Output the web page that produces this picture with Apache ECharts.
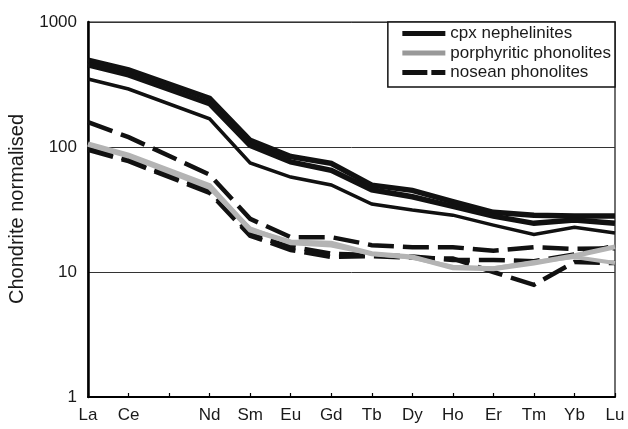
<!DOCTYPE html>
<html>
<head>
<meta charset="utf-8">
<script src="https://cdn.jsdelivr.net/npm/echarts@6/dist/echarts.min.js"></script>
<style>
  html, body { margin: 0; padding: 0; background: #fff; }
  #chart { width: 628px; height: 429px; }
</style>
</head>
<body>
<div id="chart"></div>
<script>
// Rare earth elements in atomic order; Pr is not analysed and keeps an empty slot
const elements = ['La', 'Ce', 'Pr', 'Nd', 'Sm', 'Eu', 'Gd', 'Tb', 'Dy', 'Ho', 'Er', 'Tm', 'Yb', 'Lu'];
const unlabelled = ['Pr'];
const yTicks = [1, 10, 100, 1000];

// Chondrite-normalised abundances, one array per sample
const cpxNephelinite1 = [496, 414, null, 245, 113, 84, 74, 49.5, 45, 36.5, 30, 28.5, 28, 28];
const cpxNephelinite2 = [455, 378, null, 222, 103, 76, 65, 45.5, 40, 33.5, 28, 24.5, 26, 24.5];
const cpxNephelinite3 = [350, 291, null, 168, 74.5, 57.5, 49.7, 35, 31.3, 28.5, 23.7, 20, 22.8, 20.5];

const porphyritic1 = [106, 86, null, 49, 21.7, 17.4, 17, 14, 13.2, 10.8, 10.6, 11.8, 13.5, 15.9];
const porphyritic2 = [104, 84, null, 47, 22.3, 17, 16.3, 14, 13, 11, 10.7, 12, 13.2, 11.8];

const nosean1 = [158, 120, null, 60, 26.6, 19, 19, 16.4, 15.8, 15.8, 14.8, 15.8, 15.3, 15.5];
const nosean2 = [98, 79, null, 45, 20, 16, 14, 13.7, 13.3, 12.5, 12.5, 12.2, 13.8, 16.2];
const nosean3 = [95, 77, null, 43, 19.5, 15, 13.2, 13.4, 13, 12.8, 10, 7.9, 12, 11.8];

const CPX = 'cpx nephelinites';
const POR = 'porphyritic phonolites';
const NOS = 'nosean phonolites';

const BLACK = '#111111';
const GREY = '#b4b4b4';
const DASH = [26, 9];

function line(name, data, color, width, type, z) {
  return {
    name: name,
    type: 'line',
    data: data,
    connectNulls: true,
    symbol: 'none',
    silent: true,
    z: z,
    color: color,
    lineStyle: { color: color, width: width, type: type, cap: 'butt', join: 'miter' }
  };
}

const font = '"Liberation Sans", Arial, sans-serif';
const chart = echarts.init(document.getElementById('chart'), null, { renderer: 'canvas' });

chart.setOption({
  animation: false,
  backgroundColor: '#ffffff',
  grid: {
    left: 88, right: 13, top: 22, bottom: 32,
    containLabel: false,
    outerBoundsMode: 'none',
    show: true,
    borderColor: '#111',
    borderWidth: 1.2,
    backgroundColor: 'transparent'
  },
  legend: {
    orient: 'vertical',
    right: 13,
    top: 22,
    padding: [3, 4, 6, 12],
    itemGap: 2.5,
    itemWidth: 43,
    itemHeight: 14,
    borderColor: '#111',
    borderWidth: 1.5,
    backgroundColor: '#fff',
    selectedMode: false,
    itemStyle: { opacity: 0 },
    textStyle: { fontFamily: font, fontSize: 17, color: '#1a1a1a', lineHeight: 17 },
    data: [
      { name: CPX, lineStyle: { color: BLACK, width: 5, type: 'solid' } },
      { name: POR, lineStyle: { color: '#999999', width: 5, type: 'solid' } },
      { name: NOS, lineStyle: { color: BLACK, width: 5, type: [25, 4] } }
    ]
  },
  xAxis: {
    type: 'category',
    data: elements,
    boundaryGap: false,
    axisLine: { show: true, lineStyle: { color: '#000', width: 2 } },
    axisTick: { show: true, inside: true, length: 4, interval: 0, lineStyle: { color: '#000', width: 1.2 } },
    axisLabel: {
      interval: 0,
      margin: 10,
      fontFamily: font,
      fontSize: 17,
      color: '#1a1a1a',
      formatter: v => (unlabelled.includes(v) ? '' : v)
    },
    splitLine: { show: false }
  },
  yAxis: {
    type: 'log',
    logBase: 10,
    min: yTicks[0],
    max: yTicks[yTicks.length - 1],
    axisLine: { show: true, lineStyle: { color: '#000', width: 2.5 } },
    axisTick: { show: false },
    axisLabel: { margin: 11, fontFamily: font, fontSize: 17, color: '#1a1a1a', formatter: v => String(v) },
    splitLine: { show: true, lineStyle: { color: '#333', width: 1 } }
  },
  graphic: [{
    type: 'text',
    x: 17,
    y: 209,
    rotation: Math.PI / 2,
    style: {
      text: 'Chondrite normalised',
      font: '20px ' + font,
      fill: '#1a1a1a',
      align: 'center',
      verticalAlign: 'middle'
    }
  }],
  series: [
    line(NOS, nosean1, BLACK, 4.5, DASH, 2),
    line(NOS, nosean2, BLACK, 4.5, DASH, 2),
    line(NOS, nosean3, BLACK, 4.5, DASH, 2),
    line(POR, porphyritic1, GREY, 5, 'solid', 3),
    line(POR, porphyritic2, GREY, 4, 'solid', 3),
    line(CPX, cpxNephelinite1, BLACK, 5.5, 'solid', 4),
    line(CPX, cpxNephelinite2, BLACK, 5.5, 'solid', 4),
    line(CPX, cpxNephelinite3, BLACK, 3.5, 'solid', 4)
  ]
});
</script>
</body>
</html>
